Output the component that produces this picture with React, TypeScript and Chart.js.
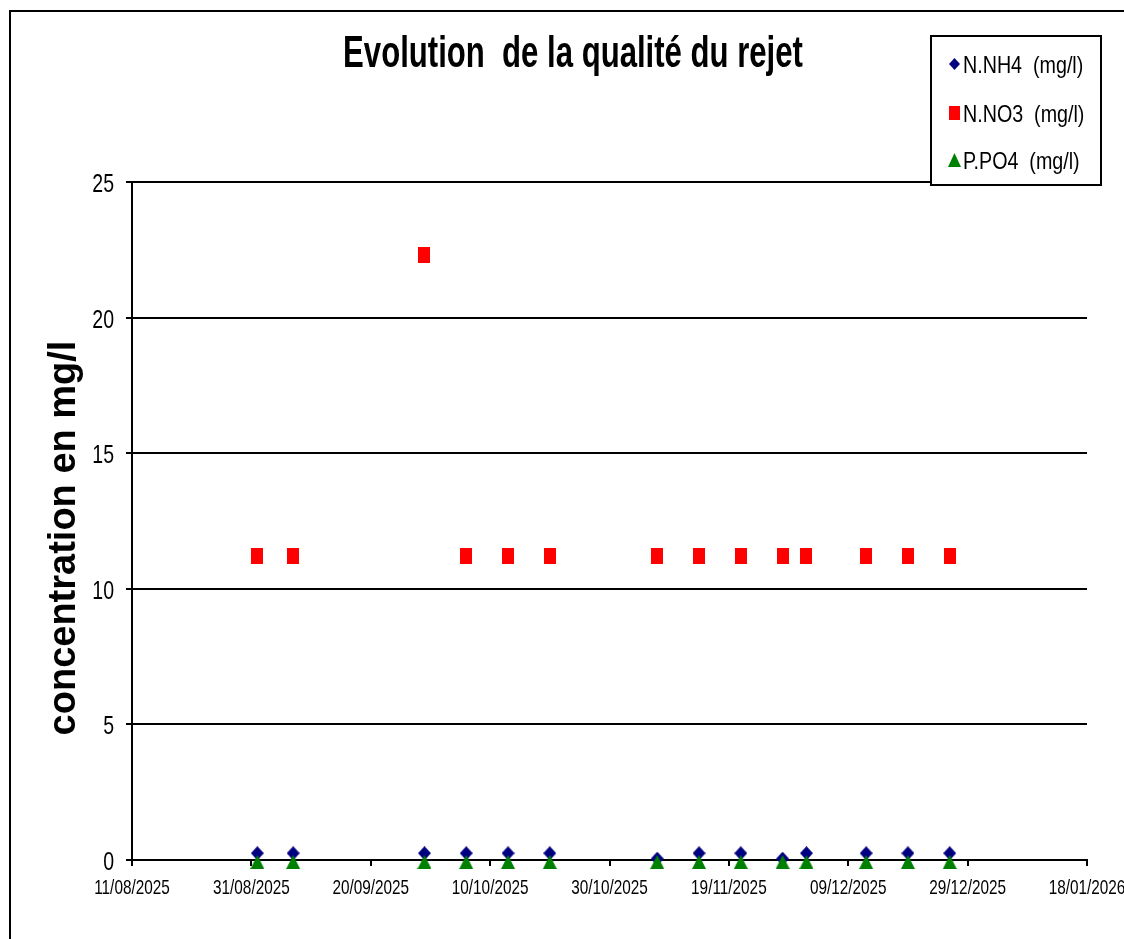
import React, { useEffect, useRef } from 'react';
import { Chart, registerables } from 'chart.js';

Chart.register(...registerables);

// ---- data ----
const axisStartDate = '11/08/2025';
const axisEndDate = '18/01/2026';
const xTickStepDays = 20;

const sampleDates = [
  '01/09/2025', '07/09/2025', '29/09/2025', '06/10/2025', '13/10/2025', '20/10/2025',
  '07/11/2025', '14/11/2025', '21/11/2025', '28/11/2025', '02/12/2025',
  '12/12/2025', '19/12/2025', '26/12/2025',
];
const nh4Values = [0.25, 0.25, 0.25, 0.25, 0.25, 0.25, 0.05, 0.25, 0.25, 0.05, 0.25, 0.25, 0.25, 0.25];
const no3Values = [11.2, 11.2, 22.3, 11.2, 11.2, 11.2, 11.2, 11.2, 11.2, 11.2, 11.2, 11.2, 11.2, 11.2];
const po4Values = [0, 0, 0, 0, 0, 0, 0, 0, 0, 0, 0, 0, 0, 0];

const seriesLabels = ['N.NH4  (mg/l)', 'N.NO3  (mg/l)', 'P.PO4  (mg/l)'];
const yMin = 0;
const yMax = 25;
const yStep = 5;

const chartTitle = 'Evolution  de la qualité du rejet';
const yAxisTitle = 'concentration en mg/l';

// ---- helpers ----
const SANS = "'Liberation Sans', Arial, sans-serif";

function parseDate(s: string): number {
  const [d, m, y] = s.split('/').map(Number);
  return Date.UTC(y, m - 1, d);
}
const DAY = 86400000;
const originMs = parseDate(axisStartDate);
function dayOffset(s: string): number {
  return Math.round((parseDate(s) - originMs) / DAY);
}
function formatDay(v: number): string {
  const dt = new Date(originMs + v * DAY);
  const dd = String(dt.getUTCDate()).padStart(2, '0');
  const mm = String(dt.getUTCMonth() + 1).padStart(2, '0');
  return `${dd}/${mm}/${dt.getUTCFullYear()}`;
}

function narrowText(ctx: CanvasRenderingContext2D, text: string, x: number, y: number, size: number, k: number, bold: boolean, align: CanvasTextAlign) {
  ctx.save();
  ctx.translate(x, y);
  ctx.scale(k, 1);
  ctx.font = `${bold ? 'bold ' : ''}${size}px ${SANS}`;
  ctx.textAlign = align;
  ctx.textBaseline = 'alphabetic';
  ctx.fillStyle = '#000';
  ctx.fillText(text, 0, 0);
  ctx.restore();
}

// marker image; padTop shifts the glyph down inside its box (Excel-like anchoring)
function makeMarker(kind: string, w: number, h: number, color: string, padTop = 0): HTMLCanvasElement {
  const c = document.createElement('canvas');
  c.width = w;
  c.height = h + padTop;
  const g = c.getContext('2d')!;
  g.fillStyle = color;
  g.translate(0, padTop);
  g.beginPath();
  if (kind === 'diamond') {
    g.moveTo(w / 2, 0);
    g.lineTo(w, h / 2);
    g.lineTo(w / 2, h);
    g.lineTo(0, h / 2);
  } else if (kind === 'triangle') {
    g.moveTo(w / 2, 0);
    g.lineTo(w, h);
    g.lineTo(0, h);
  } else {
    g.rect(0, 0, w, h);
  }
  g.closePath();
  g.fill();
  return c;
}

const decorPlugin = {
  id: 'decor',
  beforeDraw(chart: any) {
    const ctx = chart.ctx;
    ctx.save();
    ctx.fillStyle = '#ffffff';
    ctx.fillRect(0, 0, chart.width, chart.height);
    ctx.restore();
  },
  afterDraw(chart: any) {
    const ctx = chart.ctx as CanvasRenderingContext2D;
    ctx.save();
    // outer frame (top and left edges visible)
    ctx.strokeStyle = '#000';
    ctx.lineWidth = 2;
    ctx.beginPath();
    ctx.moveTo(10, chart.height + 5);
    ctx.lineTo(10, 11);
    ctx.lineTo(chart.width + 5, 11);
    ctx.stroke();

    // tick labels from the library's scales
    const xs = chart.scales.x;
    xs.ticks.forEach((t: any) => {
      const px = xs.getPixelForValue(t.value);
      narrowText(ctx, formatDay(t.value), px, xs.top + 34, 21, 0.73, false, 'center');
    });
    const ys = chart.scales.y;
    ys.ticks.forEach((t: any) => {
      const py = ys.getPixelForValue(t.value);
      narrowText(ctx, String(t.value), 114, py + 10, 26, 0.75, false, 'right');
    });

    // title
    narrowText(ctx, chartTitle, 573, 67, 44, 0.707, true, 'center');

    // y axis title
    ctx.save();
    ctx.translate(75, 538);
    ctx.rotate(-Math.PI / 2);
    ctx.font = `bold 38px ${SANS}`;
    ctx.textAlign = 'center';
    ctx.textBaseline = 'alphabetic';
    ctx.fillStyle = '#000';
    ctx.fillText(yAxisTitle, 0, 0);
    ctx.restore();

    // legend box
    const lx = 931, ly = 36, lw = 170, lh = 149;
    ctx.fillStyle = '#fff';
    ctx.fillRect(lx, ly, lw, lh);
    ctx.strokeStyle = '#000';
    ctx.lineWidth = 2;
    ctx.strokeRect(lx, ly, lw, lh);
    const rows = [64, 113, 160];
    const legendMarkers = [
      makeMarker('diamond', 11, 12, '#000080'),
      makeMarker('rect', 11, 14, '#FF0000'),
      makeMarker('triangle', 13, 14, '#008000'),
    ];
    chart.data.datasets.forEach((ds: any, i: number) => {
      const img = legendMarkers[i];
      const cy = rows[i];
      ctx.drawImage(img, Math.round(954 - img.width / 2), Math.round(cy - img.height / 2));
      narrowText(ctx, ds.label, 963, cy + 8.5, 24, 0.82, false, 'left');
    });
    ctx.restore();
  },
};

export default function App() {
  const canvasRef = useRef<HTMLCanvasElement | null>(null);

  useEffect(() => {
    const canvas = canvasRef.current;
    if (!canvas) return;
    const diamond = makeMarker('diamond', 13, 14, '#000080');
    const square = makeMarker('rect', 12, 16, '#FF0000');
    const triangle = makeMarker('triangle', 14, 14, '#008000', 4);
    const toPoints = (vals: number[]) => sampleDates.map((d, i) => ({ x: dayOffset(d), y: vals[i] }));

    const chart = new Chart(canvas, {
      type: 'scatter',
      data: {
        datasets: [
          { label: seriesLabels[0], data: toPoints(nh4Values), pointStyle: diamond as any, pointRadius: 8, showLine: false, clip: false as any, order: 3 },
          { label: seriesLabels[1], data: toPoints(no3Values), pointStyle: square as any, pointRadius: 8, showLine: false, clip: false as any, order: 2 },
          { label: seriesLabels[2], data: toPoints(po4Values), pointStyle: triangle as any, pointRadius: 8, showLine: false, clip: false as any, order: 1 },
        ],
      },
      options: {
        responsive: false,
        animation: false,
        events: [],
        layout: { padding: { top: 182, right: 37, bottom: 0, left: 0 } },
        plugins: {
          legend: { display: false },
          title: { display: false },
          tooltip: { enabled: false },
        },
        scales: {
          x: {
            type: 'linear',
            min: 0,
            max: dayOffset(axisEndDate),
            afterFit: (scale: any) => {
              scale.height = 79;
              scale.paddingLeft = 0;
              scale.paddingRight = 0;
            },
            afterBuildTicks: (scale: any) => {
              const ticks = [];
              for (let v = 0; v <= dayOffset(axisEndDate); v += xTickStepDays) ticks.push({ value: v });
              scale.ticks = ticks;
            },
            border: { display: true, color: '#000', width: 2 },
            grid: { display: true, drawOnChartArea: false, drawTicks: true, tickLength: 6, color: '#000', lineWidth: 2 },
            ticks: { display: false, autoSkip: false, maxRotation: 0, minRotation: 0 },
          },
          y: {
            type: 'linear',
            min: yMin,
            max: yMax,
            afterFit: (scale: any) => {
              scale.width = 132;
            },
            border: { display: true, color: '#000', width: 2 },
            grid: { display: true, drawTicks: true, tickLength: 6, color: '#000', lineWidth: 2 },
            ticks: { display: false, stepSize: yStep },
          },
        },
      },
      plugins: [decorPlugin],
    });
    return () => chart.destroy();
  }, []);

  return (
    <div style={{ position: 'fixed', left: 0, top: 0, width: 1124, height: 939, background: '#fff' }}>
      <canvas ref={canvasRef} width={1124} height={939} style={{ display: 'block' }} />
    </div>
  );
}
